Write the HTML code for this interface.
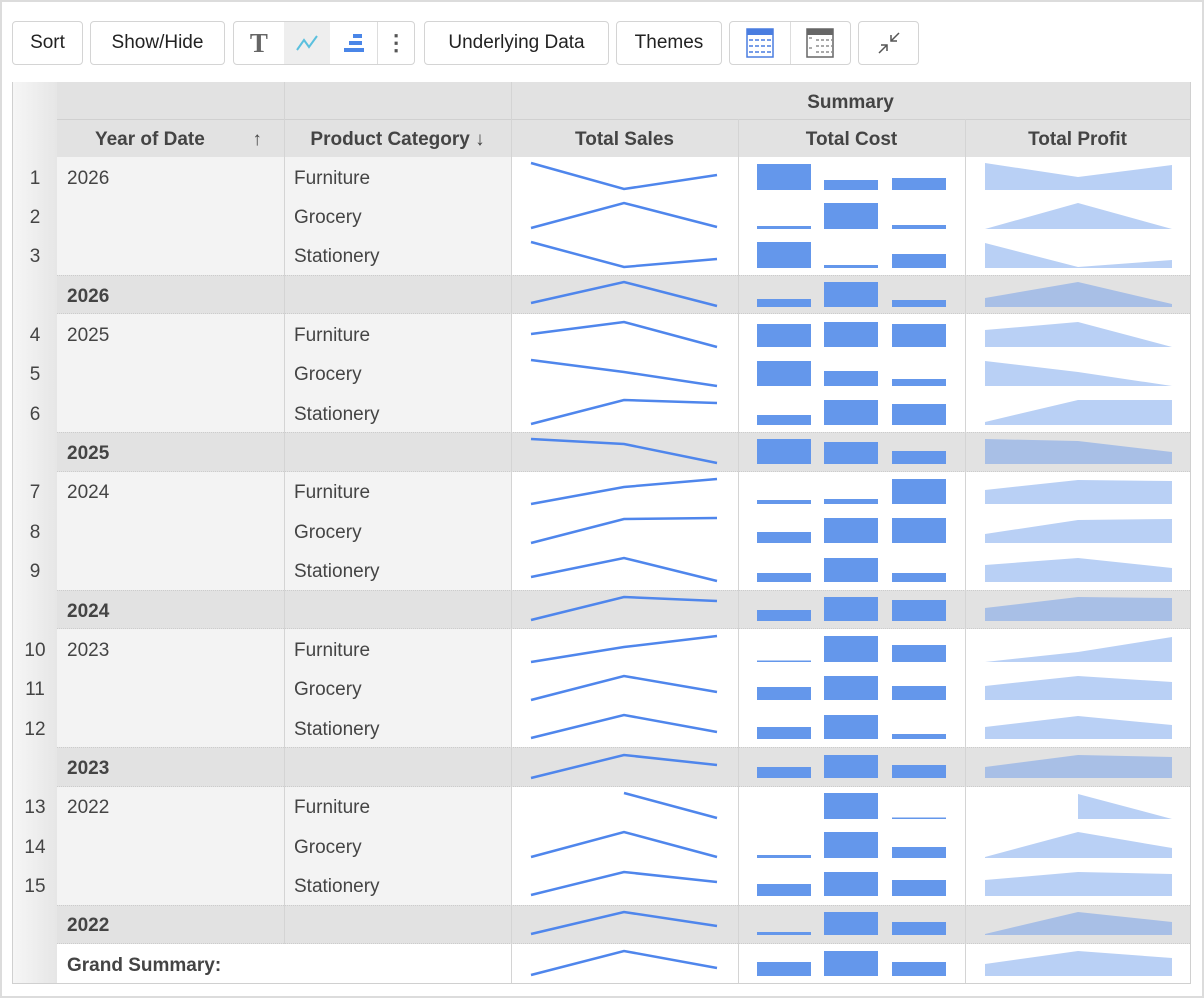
<!DOCTYPE html>
<html><head><meta charset="utf-8"><style>
body{margin:0;width:1204px;height:998px;position:relative;font-family:"Liberation Sans",sans-serif;background:#fff;overflow:hidden}
.frame{position:absolute;left:0;top:0;width:1200px;height:994px;border:2px solid #dcdcdc;background:#fff}
.b{position:absolute;top:21px;height:44px;border:1px solid #d4d4d4;border-radius:4px;background:#fff;font-size:19px;color:#222;display:flex;align-items:center;justify-content:center;box-sizing:border-box}
.c{position:absolute;box-sizing:border-box;font-size:19px;color:#444;display:flex;align-items:center;padding-top:4px}
.h{font-weight:bold;justify-content:center}
</style></head><body>
<div class="frame"></div>
<div class="b" style="left:12px;width:71px">Sort</div>
<div class="b" style="left:90px;width:135px">Show/Hide</div>
<div class="b" style="left:233px;width:182px;justify-content:flex-start">
 <div style="width:50px;text-align:center;font-family:'Liberation Serif',serif;font-weight:bold;font-size:27px;color:#666">T</div>
 <div style="width:47px;height:42px;background:#eee;display:flex;align-items:center;justify-content:center"><svg width="24" height="20"><polyline points="2,17 9,7 14,14 22,3" fill="none" stroke="#5bc0de" stroke-width="2"/></svg></div>
 <div style="width:47px;display:flex;justify-content:center"><svg width="24" height="22"><rect x="11" y="2" width="9" height="4" fill="#4a86e8"/><rect x="7" y="9" width="13" height="4" fill="#4a86e8"/><rect x="2" y="16" width="20" height="4" fill="#4a86e8"/></svg></div>
 <div style="width:36px;border-left:1px solid #ddd;height:42px;display:flex;align-items:center;justify-content:center;font-size:22px;font-weight:bold;color:#555">⋮</div>
</div>
<div class="b" style="left:424px;width:185px">Underlying Data</div>
<div class="b" style="left:616px;width:106px">Themes</div>
<div class="b" style="left:729px;width:122px;justify-content:flex-start">
 <div style="width:60px;display:flex;justify-content:center"><svg width="28" height="30"><rect x="1" y="1" width="26" height="28" fill="#fff" stroke="#4a7de0" stroke-width="1.5"/><rect x="1" y="1" width="26" height="6" fill="#4a7de0"/><g stroke="#4a7de0" stroke-width="1.5" stroke-dasharray="4 2"><line x1="3" y1="12" x2="26" y2="12"/><line x1="3" y1="18" x2="26" y2="18"/><line x1="3" y1="24" x2="26" y2="24"/></g></svg></div>
 <div style="width:60px;height:42px;border-left:1px solid #ddd;display:flex;align-items:center;justify-content:center"><svg width="28" height="30"><rect x="1" y="1" width="26" height="28" fill="#fff" stroke="#666" stroke-width="1.5"/><rect x="1" y="1" width="26" height="6" fill="#666"/><g stroke="#777" stroke-width="1.2" stroke-dasharray="3 2"><line x1="10" y1="12" x2="26" y2="12"/><line x1="10" y1="18" x2="26" y2="18"/><line x1="10" y1="24" x2="26" y2="24"/><line x1="3" y1="10" x2="7" y2="10"/><line x1="3" y1="20" x2="7" y2="20"/></g></svg></div>
</div>
<div class="b" style="left:858px;width:61px"><svg width="26" height="26"><g stroke="#555" stroke-width="1.5" fill="none"><line x1="3" y1="23" x2="11" y2="15"/><polyline points="5,15 11,15 11,21"/><line x1="23" y1="3" x2="15" y2="11"/><polyline points="15,5 15,11 21,11"/></g></svg></div>
<div id="t"></div>
<svg id="s" width="1204" height="998" style="position:absolute;left:0;top:0"></svg>
<script>
var t=document.getElementById('t'),h='';
function cell(x,y,w,hh,bg,txt,cls,extra){h+='<div class="c '+(cls||'')+'" style="left:'+x+'px;top:'+y+'px;width:'+w+'px;height:'+hh+'px;background:'+bg+';'+(extra||'')+'">'+(txt||'')+'</div>';}
h+='<div style="position:absolute;left:12px;top:82px;width:1179px;height:902px;border:1px solid #d0d0d0;box-sizing:border-box;background:#fff"></div>';
cell(13,82,44,901,'linear-gradient(90deg,#f6f6f6,#e6e6e6)');
cell(57,82,1133,37,'#e2e2e2','');
h+='<div class="c h" style="left:511px;top:82px;width:679px;height:37px;color:#444">Summary</div>';
cell(57,119,1133,38,'#e2e2e2','');
var cols=[57,284,511,738,965,1190];
var hdr=['&nbsp;&nbsp;&nbsp;Year of Date &nbsp;&nbsp;&nbsp;&nbsp;&nbsp;&nbsp;&nbsp;&nbsp;↑','Product Category ↓','Total Sales','Total Cost','Total Profit'];
for(var i=0;i<5;i++)h+='<div class="c h" style="left:'+cols[i]+'px;top:119px;width:'+(cols[i+1]-cols[i])+'px;height:38px">'+hdr[i]+'</div>';
h+='<div style="position:absolute;left:57px;top:119px;width:1133px;height:1px;background:#d0d0d0"></div>';
var years=['2026','2025','2024','2023','2022'],cats=['Furniture','Grocery','Stationery'];
var R=39.35,n=1;
for(var g=0;g<5;g++){
 for(var k=0;k<3;k++){
  var y=157+(g*4+k)*R;
  cell(57,y,454,R+1,'#f3f3f3');
  cell(511,y,679,R+1,'#fff');
  h+='<div class="c" style="left:13px;top:'+y+'px;width:44px;height:'+R+'px;justify-content:center">'+(n++)+'</div>';
  if(k==0)h+='<div class="c" style="left:67px;top:'+y+'px;height:'+R+'px">'+years[g]+'</div>';
  h+='<div class="c" style="left:294px;top:'+y+'px;height:'+R+'px">'+cats[k]+'</div>';
 }
 var y=157+(g*4+3)*R;
 cell(57,y,1133,R,'#e2e2e2','<span style="padding-left:10px;font-weight:bold">'+years[g]+'</span>','','border-top:1px dotted #ccc;border-bottom:1px dotted #ccc');
}
cell(57,944,1133,39,'#fff','<span style="padding-left:10px;font-weight:bold">Grand Summary:</span>');
h+='<div style="position:absolute;left:284px;top:82px;width:1px;height:862px;background:#d4d4d4"></div>';
h+='<div style="position:absolute;left:511px;top:82px;width:1px;height:901px;background:#d4d4d4"></div>';
h+='<div style="position:absolute;left:738px;top:119px;width:1px;height:864px;background:#d4d4d4"></div>';
h+='<div style="position:absolute;left:965px;top:119px;width:1px;height:864px;background:#d4d4d4"></div>';
t.innerHTML=h;
var D=[
[157,[163,189,175],[164,180,178],190,[163,177,165],0],
[196,[228,203,227],[226,203,225],229,[229,203,229],0],
[236,[242,267,259],[242,265,254],268,[243,267,260],0],
[275,[303,282,306],[299,282,300],307,[298,282,304],1],
[314,[334,322,347],[324,322,324],347,[330,322,347],0],
[354,[360,372,386],[361,371,379],386,[361,372,386],0],
[393,[424,400,403],[415,400,404],425,[422,400,400],0],
[432,[439,444,463],[439,442,451],464,[439,441,452],1],
[472,[504,487,479],[500,499,479],504,[490,480,481],0],
[511,[543,519,518],[532,518,518],543,[534,520,519],0],
[550,[577,558,581],[573,558,573],582,[565,558,568],0],
[590,[620,597,601],[610,597,600],621,[608,597,598],1],
[629,[662,647,636],[661,636,645],662,[662,652,637],0],
[668,[700,676,692],[687,676,686],700,[686,676,682],0],
[708,[738,715,732],[727,715,734],739,[727,716,725],0],
[747,[778,755,765],[767,755,765],778,[767,755,757],1],
[786,[null,793,818],[null,793,818],819,[null,794,819],0],
[826,[857,832,857],[855,832,847],858,[857,832,848],0],
[865,[895,872,882],[884,872,880],896,[880,872,874],0],
[904,[934,912,926],[932,912,922],935,[934,912,922],1],
[944,[975,951,968],[962,951,962],976,[964,951,958],0]];
var s='',lx=[531,624,717],bx=[757,824,892],ax=[985,1078,1172];
D.forEach(function(d){
 var p=[];for(var i=0;i<3;i++)if(d[1][i]!=null)p.push(lx[i]+','+d[1][i]);
 s+='<polyline points="'+p.join(' ')+'" fill="none" stroke="#4f86ec" stroke-width="2.5"/>';
 for(var i=0;i<3;i++)if(d[2][i]!=null){var hh=Math.max(d[3]-d[2][i],1.5);s+='<rect x="'+bx[i]+'" y="'+(d[3]-hh)+'" width="54" height="'+hh+'" fill="#6497eb"/>';}
 var a=[];for(var i=0;i<3;i++)if(d[4][i]!=null)a.push(ax[i]+','+d[4][i]);
 var st=d[4][0]==null?ax[1]:ax[0];
 s+='<polygon points="'+st+','+d[3]+' '+a.join(' ')+' '+ax[2]+','+d[3]+'" fill="'+(d[5]?'#a8bfe6':'#b9d0f5')+'"/>';
});
document.getElementById('s').innerHTML=s;
</script>
</body></html>
